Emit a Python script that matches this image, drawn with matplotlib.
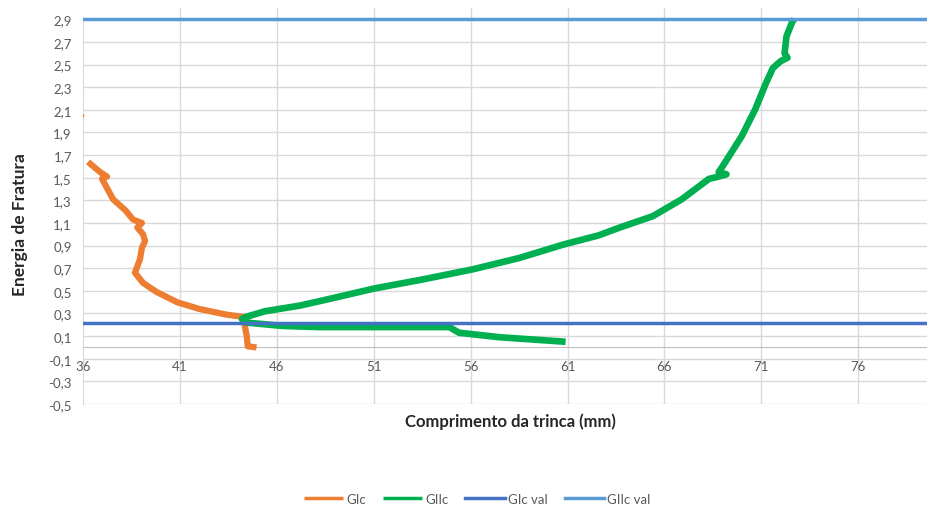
import numpy as np
import matplotlib
matplotlib.use("Agg")
import matplotlib.pyplot as plt

# ---- data ----
# GIc (orange): small clipped stub near x=36, then main curve
gic_x = [35.6, 36.02, np.nan,
         36.26, 36.88, 37.24, 36.98, 37.55, 38.2, 38.58, 39.04, 38.8, 39.1, 39.2,
         39.04, 38.94, 38.68, 39.1, 39.8, 40.85, 42.0, 43.4, 44.25, 44.35,
         44.45, 44.5, 44.95]
gic_y = [2.06, 2.03, np.nan,
         1.64, 1.55, 1.51, 1.49, 1.31, 1.21, 1.13, 1.10, 1.06, 1.00, 0.94,
         0.88, 0.78, 0.66, 0.57, 0.49, 0.40, 0.34, 0.29, 0.27, 0.19,
         0.10, 0.01, 0.0]

# GIIc (green): lower branch from right end back to junction, then up
giic_x = [60.9, 59.2, 57.5, 55.4, 54.9, 51.0, 48.2, 46.3, 44.4, 44.2,
          44.4, 45.4, 47.2, 49.0, 51.0, 53.5, 56.1, 58.5, 60.8, 62.6, 63.7,
          65.4, 66.9, 68.3, 68.8, 69.2, 68.8, 69.0, 70.0, 70.7, 71.25, 71.6,
          72.0, 72.35, 72.2, 72.3, 72.6, 72.7]
giic_y = [0.05, 0.07, 0.09, 0.13, 0.18, 0.18, 0.18, 0.19, 0.22, 0.25,
          0.27, 0.32, 0.37, 0.44, 0.52, 0.60, 0.69, 0.79, 0.91, 0.99, 1.06,
          1.16, 1.31, 1.49, 1.51, 1.53, 1.55, 1.60, 1.87, 2.11, 2.34, 2.47,
          2.53, 2.56, 2.60, 2.75, 2.88, 2.90]

gic_val = 0.22
giic_val = 2.9

x_ticks = [36, 41, 46, 51, 56, 61, 66, 71, 76]
y_ticks = [-0.5, -0.3, -0.1, 0.1, 0.3, 0.5, 0.7, 0.9, 1.1, 1.3, 1.5, 1.7,
           1.9, 2.1, 2.3, 2.5, 2.7, 2.9]

plt.rcParams['font.family'] = ['Lato', 'DejaVu Sans']

fig = plt.figure(figsize=(9.28, 5.10), dpi=100)
ax = fig.add_axes([83 / 928, 105 / 510, 845 / 928, 396 / 510])

ax.set_xlim(36, 79.6)
ax.set_ylim(-0.5, 3.0)

# gridlines (Excel style)
for xv in x_ticks[1:]:
    ax.axvline(xv, color='#d9d9d9', lw=1, zorder=0)
for yv in y_ticks:
    ax.axhline(yv, color='#d9d9d9', lw=1, zorder=0)

ax.plot(gic_x, gic_y, color='#ED7D31', lw=4.5, solid_capstyle='butt', label='GIc', zorder=3)
ax.plot(giic_x, giic_y, color='#00B050', lw=4.8, solid_capstyle='butt', label='GIIc', zorder=3)
ax.plot([36, 79.6], [gic_val, gic_val], color='#4472C4', lw=2.5, label='GIc val', zorder=4)
ax.plot([36, 79.6], [giic_val, giic_val], color='#5B9BD5', lw=2.5, label='GIIc val', zorder=4)

for s in ['top', 'right']:
    ax.spines[s].set_visible(False)
ax.spines['bottom'].set_position(('data', 0))
ax.spines['bottom'].set_color('#bfbfbf')
ax.spines['left'].set_color('#d9d9d9')
ax.spines['left'].set_bounds(-0.5, 2.9)

ax.set_xticks(x_ticks)
ax.set_xticklabels([str(v) for v in x_ticks])
ax.set_yticks(y_ticks)
ax.set_yticklabels([f"{v:.1f}".replace('.', ',') for v in y_ticks])
ax.tick_params(axis='both', length=0, labelsize=9.5, colors='#595959')
ax.tick_params(axis='x', pad=9)
ax.tick_params(axis='y', pad=8)

fig.text(510 / 928, 1 - 422 / 510, 'Comprimento da trinca (mm)', ha='center', va='center',
         fontsize=12, fontweight='bold', color='#262626')
fig.text(20 / 928, 1 - 225 / 510, 'Energia de Fratura', ha='center', va='center',
         rotation=90, fontsize=12.5, fontweight='bold', color='#262626')

fig.legend(loc='center', bbox_to_anchor=(477 / 928, 1 - 500 / 510), ncol=4, frameon=False,
           fontsize=9.5, labelcolor='#595959', handlelength=3.0, handletextpad=0.2,
           columnspacing=1.3)
for line in fig.legends[0].get_lines():
    line.set_linewidth(2.5)

fig.savefig('out.png', dpi=100)
